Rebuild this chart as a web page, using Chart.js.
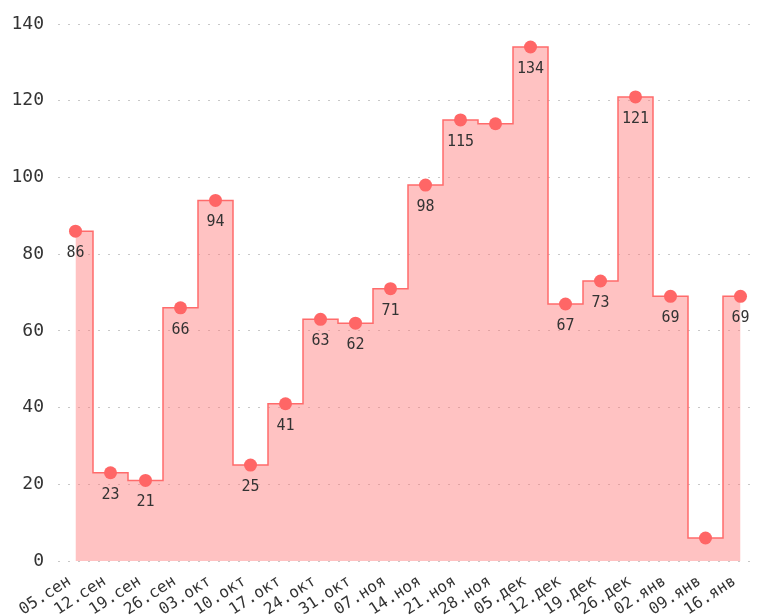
<!DOCTYPE html>
<html><head><meta charset="utf-8">
<script src="https://cdn.jsdelivr.net/npm/chart.js@4/dist/chart.umd.min.js"></script>
<style>html,body{margin:0;padding:0;background:#fff}#wrap{width:758px;height:615px}</style>
</head><body><div id="wrap"><canvas id="c" width="758" height="615"></canvas></div>
<script>
const categories = ['05.сен','12.сен','19.сен','26.сен','03.окт','10.окт','17.окт','24.окт','31.окт','07.ноя','14.ноя','21.ноя','28.ноя','05.дек','12.дек','19.дек','26.дек','02.янв','09.янв','16.янв'];
const values = [86,23,21,66,94,25,41,63,62,71,98,115,114,134,67,73,121,69,6,69];
const hiddenLabels = [12,18];
const yTicks = [0,20,40,60,80,100,120,140];

const FONT = '"DejaVu Sans Mono", "Liberation Mono", monospace';

const labelPlugin = {
  id: 'valLabels',
  afterDatasetsDraw(chart) {
    const ctx = chart.ctx;
    const meta = chart.getDatasetMeta(0);
    ctx.save();
    ctx.font = '15px ' + FONT;
    ctx.fillStyle = '#333';
    ctx.textAlign = 'center';
    ctx.textBaseline = 'middle';
    meta.data.forEach((pt, i) => {
      if (hiddenLabels.includes(i)) return;
      ctx.fillText(String(values[i]), pt.x, pt.y + 22);
    });
    ctx.restore();
  }
};

new Chart(document.getElementById('c'), {
  type: 'line',
  data: {
    labels: categories,
    datasets: [{
      data: values,
      stepped: 'middle',
      fill: 'origin',
      borderColor: '#ff6b6b',
      backgroundColor: 'rgba(255,120,120,0.45)',
      borderWidth: 1.5,
      pointRadius: 6.5,
      pointHoverRadius: 6.5,
      pointBackgroundColor: '#ff6666',
      pointBorderColor: '#ff6666',
      pointBorderWidth: 0
    }]
  },
  options: {
    responsive: false,
    animation: false,
    devicePixelRatio: 1,
    layout: { autoPadding: false, padding: { top: 24, right: 0, left: 0, bottom: 0 } },
    plugins: { legend: { display: false }, tooltip: { enabled: false } },
    scales: {
      x: {
        offset: true,
        grid: { display: false },
        border: { display: false },
        afterFit(axis) { axis.height = 54; axis.paddingLeft = 0; axis.paddingRight = 0; },
        ticks: {
          color: '#333',
          font: { family: FONT, size: 16 },
          maxRotation: 33, minRotation: 33, autoSkip: false, padding: 3,
          labelOffset: -6
        }
      },
      y: {
        min: 0, max: 140,
        afterBuildTicks(axis) { axis.ticks = yTicks.map(v => ({ value: v })); },
        afterFit(axis) { axis.width = 58; axis.paddingTop = 0; axis.paddingBottom = 0; },
        border: { display: false, dash: [2, 8] },
        grid: { color: '#c8c8c8', drawTicks: false, lineWidth: 1 },
        ticks: {
          color: '#333',
          font: { family: FONT, size: 18 },
          padding: 14
        }
      }
    }
  },
  plugins: [labelPlugin]
});
</script>
</body></html>
